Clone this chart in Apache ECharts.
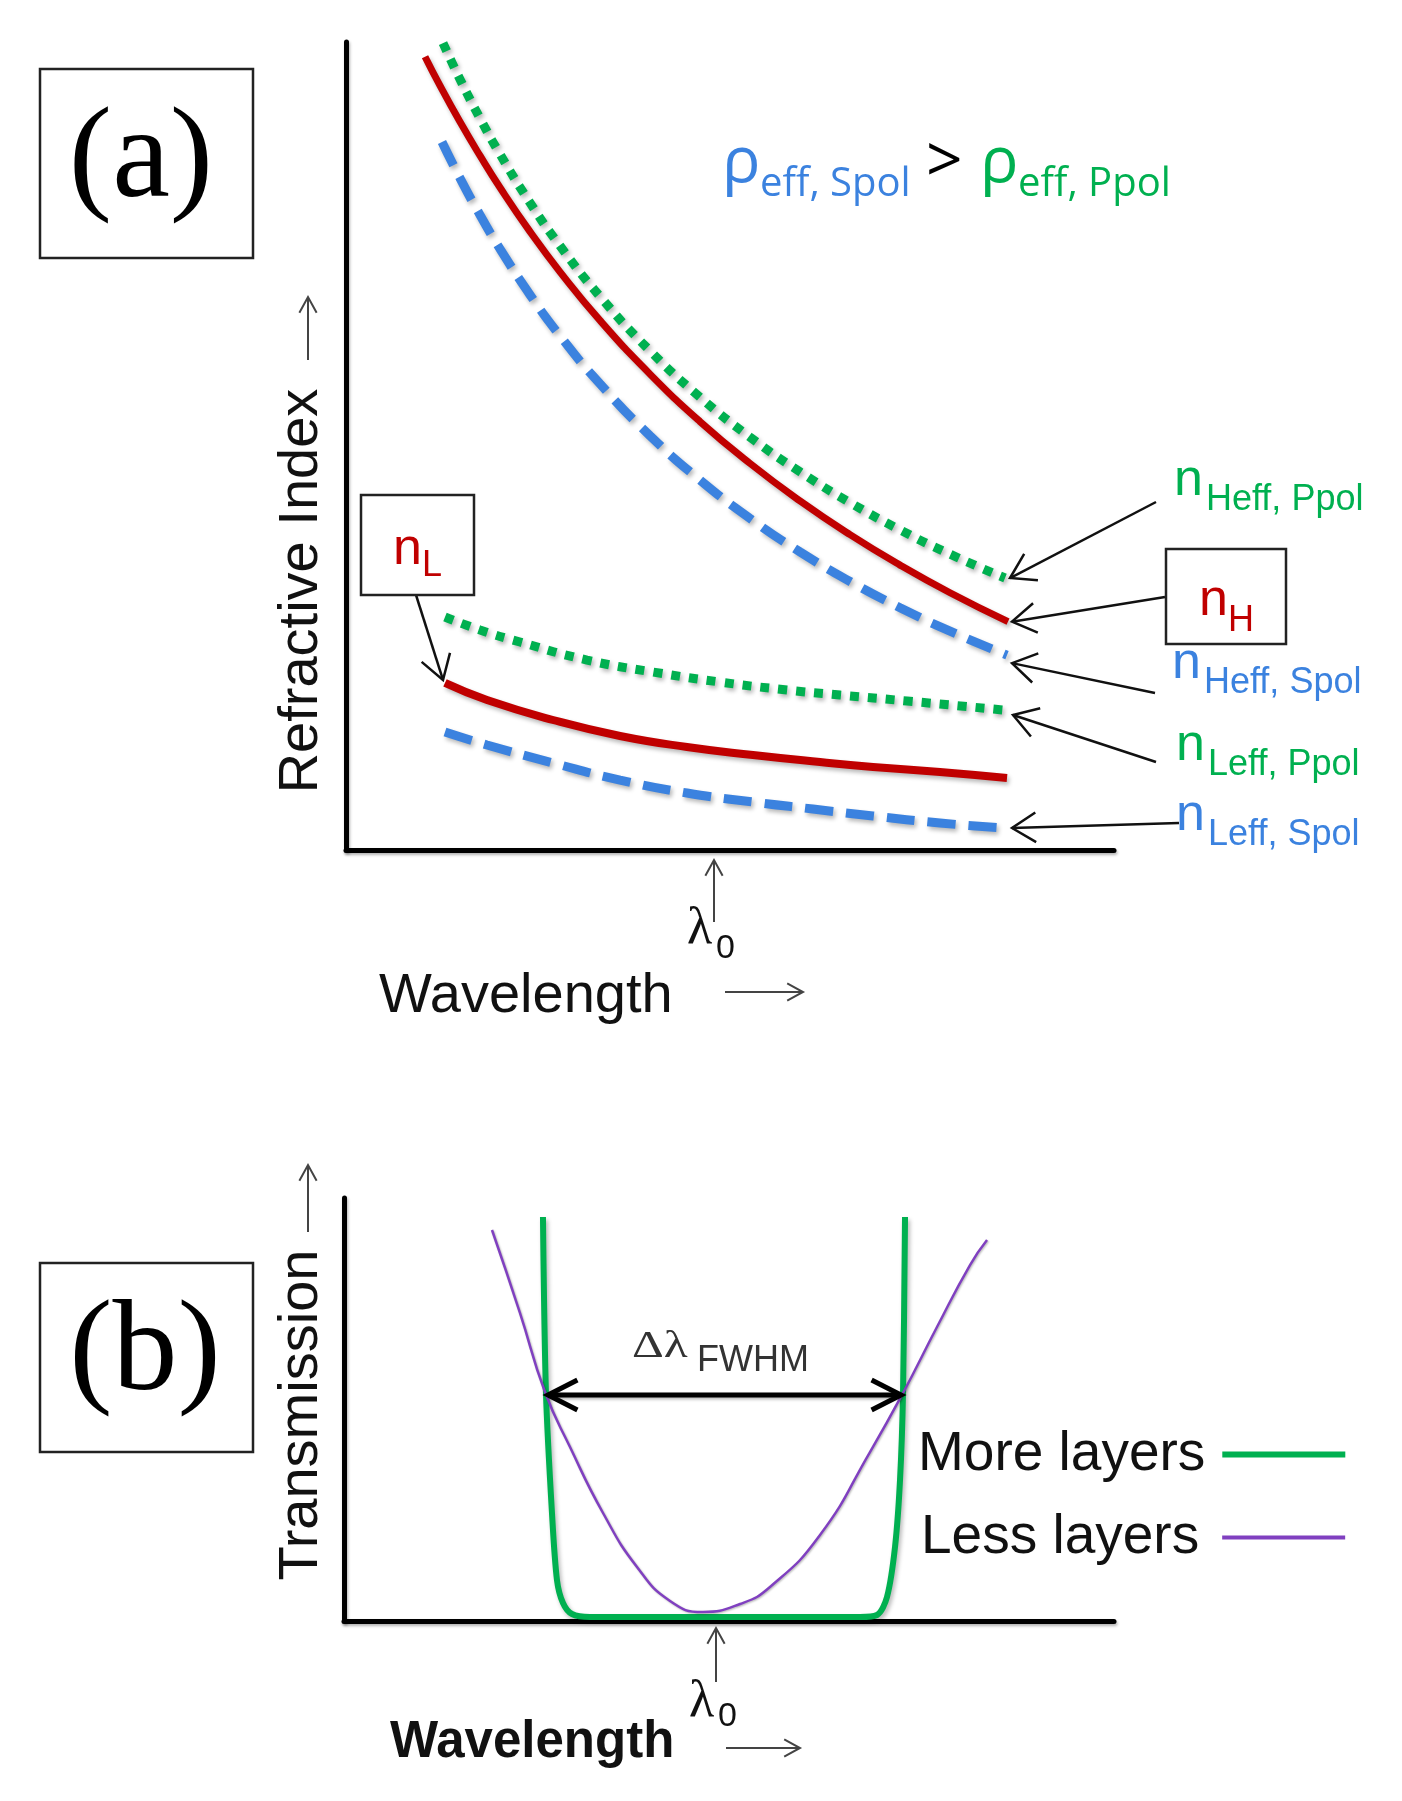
<!DOCTYPE html>
<html><head><meta charset="utf-8">
<script src="https://cdn.jsdelivr.net/npm/echarts@6/dist/echarts.min.js"></script>
<style>html,body{margin:0;padding:0;background:#fff}#c{width:1402px;height:1801px}</style>
</head><body><div id="c"></div>
<script>
// ---------- Panel (a): wavelength (arb. 0-100) vs refractive index (arb. 0-100) ----------
const hPpolX = [12.63,14.84,17.45,20.05,23.96,27.86,33.07,39.58,46.09,52.60,59.11,65.63,72.14,78.65,85.81];
const hPpolY = [99.86,95.40,90.56,86.13,80.11,74.78,68.51,61.79,56.05,51.10,46.80,43.00,39.62,36.61,33.66];
const nHX    = [10.29,12.24,14.84,17.45,20.05,23.96,27.86,33.07,39.58,46.09,52.60,59.11,65.63,72.14,78.65,86.20];
const nHY    = [98.18,94.60,90.12,85.93,81.99,76.53,71.56,65.54,58.90,53.03,47.85,43.21,39.03,35.26,31.84,28.26];
const hSpolX = [12.50,14.84,17.45,20.05,23.96,27.86,33.07,39.58,46.09,52.60,59.11,65.63,72.14,78.65,86.07];
const hSpolY = [87.62,83.16,78.59,74.41,68.71,63.65,57.69,51.27,45.79,41.04,36.89,33.23,29.99,27.08,24.12];
const lPpolX = [12.89,17.45,22.66,31.38,39.97,48.70,57.42,64.32,73.05,85.55];
const lPpolY = [28.84,27.23,25.74,23.51,22.03,20.79,19.80,19.18,18.44,17.33];
const nLX    = [12.89,18.36,26.95,35.68,44.40,52.99,61.72,68.62,77.34,86.07];
const nLY    = [20.67,18.56,16.09,14.11,12.75,11.76,10.89,10.27,9.65,8.91];
const lSpolX = [12.89,18.36,26.95,35.68,44.40,52.99,60.81,68.62,77.34,85.81];
const lSpolY = [14.60,13.00,10.77,8.66,7.05,5.94,5.07,4.21,3.34,2.72];

// ---------- Panel (b): wavelength (arb. 0-100) vs transmission (arb. 0-100) ----------
const moreX = [25.84,26.23,27.01,27.66,28.44,29.61,31.95,48.83,67.01,69.22,70.52,71.56,72.21,72.60,72.86];
const moreY = [95.51,53.90,25.53,9.69,4.26,1.65,0.95,0.95,0.95,1.42,5.67,17.49,33.33,53.90,95.51];
const lessX = [19.22,22.86,26.10,29.35,33.64,38.05,42.34,46.62,51.43,55.32,61.82,68.31,72.60,77.01,81.30,83.51];
const lessY = [92.43,72.81,54.14,41.13,25.53,12.77,4.73,2.13,4.02,8.04,20.33,39.95,53.90,69.50,84.16,90.07];
const fwhmX = [26.49,72.34];
const fwhmY = [53.43,53.43];

const seriesNames = ['nHeff, Ppol','nH','nHeff, Spol','nLeff, Ppol','nL','nLeff, Spol','More layers','Less layers','FWHM'];

const C = {green:'#00B050', red:'#C00000', blue:'#3B82DF', purple:'#8040C0', ink:'#111'};
const SANS = 'Liberation Sans, Arial, sans-serif';
const SERIF = 'Liberation Serif, Times New Roman, serif';
const CAL = 'Open Sans, Noto Sans, sans-serif';

const chart = echarts.init(document.getElementById('c'), null, {renderer:'canvas'});

function zip(xs, ys){ return xs.map((x,i)=>[x, ys[i]]); }
function ls(name, xs, ys, gi, style, smooth){
  return {
    name, type:'line', xAxisIndex:gi, yAxisIndex:gi, data: zip(xs, ys),
    symbol:'none', showSymbol:false, smooth: smooth, clip:false, silent:true,
    itemStyle:{color: style.color},
    lineStyle: Object.assign({shadowColor:'rgba(0,0,0,0.28)', shadowBlur:4, shadowOffsetX:2, shadowOffsetY:3, cap:'butt'}, style),
    z:3
  };
}
const axisLine = {show:true, onZero:false, lineStyle:{color:'#000', width:5, shadowColor:'rgba(0,0,0,0.3)', shadowBlur:3, shadowOffsetX:1, shadowOffsetY:2}};
function ax(i){ return {gridIndex:i, type:'value', min:0, max:100, axisLine, axisTick:{show:false}, axisLabel:{show:false}, splitLine:{show:false}}; }

const option = {
  animation:false,
  backgroundColor:'#fff',
  grid:[
    {left:346, top:42, width:768, height:808},
    {left:344, top:1198, width:770, height:423}
  ],
  xAxis:[ax(0), ax(1)],
  yAxis:[ax(0), ax(1)],
  legend:[
    {data:['More layers'], left:918, top:1427, icon:'rect', align:'right', itemWidth:123, itemHeight:6, padding:0, selectedMode:false,
     textStyle:{fontSize:55, fontFamily:SANS, color:C.ink, padding:[0,12,10,0]}},
    {data:['Less layers'], left:921, top:1510, icon:'rect', align:'right', itemWidth:123, itemHeight:4, padding:0, selectedMode:false,
     textStyle:{fontSize:55, fontFamily:SANS, color:C.ink, padding:[0,18,10,0]}}
  ],
  series:[
    ls(seriesNames[0], hPpolX, hPpolY, 0, {color:C.green, width:9, type:[9,9]}, 0.5),
    ls(seriesNames[1], nHX, nHY, 0, {color:C.red, width:7, type:'solid'}, 0.5),
    ls(seriesNames[2], hSpolX, hSpolY, 0, {color:C.blue, width:9, type:[26,13]}, 0.5),
    ls(seriesNames[3], lPpolX, lPpolY, 0, {color:C.green, width:9, type:[9,9]}, 0.5),
    ls(seriesNames[4], nLX, nLY, 0, {color:C.red, width:8, type:'solid'}, 0.5),
    ls(seriesNames[5], lSpolX, lSpolY, 0, {color:C.blue, width:9, type:[28,13]}, 0.5),
    ls(seriesNames[6], moreX, moreY, 1, {color:C.green, width:6, type:'solid'}, 0.3),
    ls(seriesNames[7], lessX, lessY, 1, {color:C.purple, width:2.5, type:'solid', shadowBlur:2, shadowOffsetX:1, shadowOffsetY:1}, 0.5),
    ls(seriesNames[8], fwhmX, fwhmY, 1, {color:'#000', width:5, type:'solid', shadowBlur:3, shadowOffsetX:1, shadowOffsetY:2}, false)
  ]
};
chart.setOption(option);

// ---------- annotations ----------
const G = [];
function arrow(x1,y1,x2,y2,color,w,len,ang){
  const dx=x2-x1, dy=y2-y1, d=Math.hypot(dx,dy), bx=-dx/d, by=-dy/d, c=Math.cos(ang), s=Math.sin(ang);
  const a1=[x2+len*(bx*c-by*s), y2+len*(bx*s+by*c)];
  const a2=[x2+len*(bx*c+by*s), y2+len*(-bx*s+by*c)];
  G.push({type:'line', silent:true, z:10, shape:{x1,y1,x2,y2}, style:{stroke:color, lineWidth:w}});
  G.push({type:'polyline', silent:true, z:10, shape:{points:[a1,[x2,y2],a2]}, style:{stroke:color, lineWidth:w, fill:'none', lineJoin:'miter'}});
}
function headOnly(fromX,fromY,x2,y2,color,w,len,ang){
  const dx=x2-fromX, dy=y2-fromY, d=Math.hypot(dx,dy), bx=-dx/d, by=-dy/d, c=Math.cos(ang), s=Math.sin(ang);
  const a1=[x2+len*(bx*c-by*s), y2+len*(bx*s+by*c)];
  const a2=[x2+len*(bx*c+by*s), y2+len*(-bx*s+by*c)];
  G.push({type:'polyline', silent:true, z:10, shape:{points:[a1,[x2,y2],a2]}, style:{stroke:color, lineWidth:w, fill:'none', lineJoin:'miter'}});
}
function txt(t, x, base, size, color, fam, extra, el){
  const e = Object.assign({type:'text', silent:true, z:12, x:x, y: base - 0.33*size,
    style:Object.assign({text:t, fontSize:size, fontFamily:fam, fill:color, align:'left', verticalAlign:'middle'}, extra||{})}, el||{});
  G.push(e);
}
function box(x,y,w,h){ G.push({type:'rect', silent:true, z:11, shape:{x,y,width:w,height:h}, style:{stroke:'#222', lineWidth:2.5, fill:'#fff'}}); }
function vtxt(t, cx, cy, size){
  G.push({type:'text', silent:true, z:12, x:cx, y:cy, rotation:Math.PI/2,
    style:{text:t, fontSize:size, fontFamily:SANS, fill:C.ink, align:'center', verticalAlign:'middle'}});
}
const P = (gi, pt) => chart.convertToPixel({gridIndex:gi}, pt);
const last = (xs, ys) => [xs[xs.length-1], ys[ys.length-1]];

// panel label boxes
box(40,69,213,189);   txt('(a)', 141, 162 + 0.33*130, 130, '#000', SERIF, {align:'center'});
box(40,1263,213,189); txt('(b)', 145, 1355 + 0.33*130, 130, '#000', SERIF, {align:'center'});

// axis titles (a)
vtxt('Refractive Index', 302, 591, 56);
arrow(308,360,308,297,'#444',2,18,0.5);
txt('Wavelength', 379, 1015, 56, C.ink, SANS);
arrow(725,992,803,992,'#444',2,18,0.5);
txt('\u03bb', 687, 947, 52, C.ink, SERIF);
txt('0', 716, 960, 34, C.ink, SANS);
arrow(714,922,714,860,'#444',2,18,0.5);

// rho relation
txt('\u03c1', 722, 185, 64, C.blue, CAL);
txt('eff, Spol', 760, 198, 40, C.blue, CAL);
txt('>', 926, 185, 64, '#000', CAL);
txt('\u03c1', 980, 185, 64, C.green, CAL);
txt('eff, Ppol', 1018, 198, 40, C.green, CAL);

// right-hand labels
function nlab(sub, x, base, color){
  txt('n', x, base, 52, color, SANS);
  txt(sub, x + 32, base + 14, 36, color, SANS);
}
nlab('Heff, Ppol', 1174, 498, C.green);
nlab('Heff, Spol', 1172, 681, C.blue);
nlab('Leff, Ppol', 1176, 763, C.green);
nlab('Leff, Spol', 1176, 833, C.blue);
box(1166,549,120,95);
txt('n', 1199, 618, 52, C.red, SANS); txt('H', 1228, 633, 36, C.red, SANS);
box(361,495,113,100);
txt('n', 393, 567, 52, C.red, SANS); txt('L', 422, 578, 36, C.red, SANS);

// pointer arrows to curve ends (a)
let e;
e = P(0, last(hPpolX,hPpolY)); arrow(1156,502, e[0]+5, e[1], '#111', 2.5, 28, 0.56);
e = P(0, last(nHX,nHY));       arrow(1165,597, e[0]+4, e[1], '#111', 2.5, 28, 0.56);
e = P(0, last(hSpolX,hSpolY)); arrow(1155,693, e[0]+5, e[1]+8, '#111', 2.5, 28, 0.56);
e = P(0, last(lPpolX,lPpolY)); arrow(1156,762, e[0]+10, e[1]+5, '#111', 2.5, 28, 0.56);
e = P(0, last(lSpolX,lSpolY)); arrow(1179,823, e[0]+7, e[1], '#111', 2.5, 28, 0.56);
e = P(0, [nLX[0], nLY[0]]);    arrow(416,595, e[0]-2, e[1]-3, '#111', 2.5, 28, 0.56);

// panel (b) texts
vtxt('Transmission', 302, 1415, 56);
arrow(308,1232,308,1165,'#444',2,18,0.5);
G.push({type:'text', silent:true, z:12, x:632, y:1360 - 0.33*38, scaleX:1.3,
  style:{text:'\u0394\u03bb', fontSize:38, fontFamily:SERIF, fill:'#333', align:'left', verticalAlign:'middle'}});
txt('FWHM', 697, 1373, 36, '#333', SANS);
txt('\u03bb', 689, 1720, 52, C.ink, SERIF);
txt('0', 718, 1728, 34, C.ink, SANS);
arrow(716,1682,716,1628,'#444',2,18,0.5);
txt('Wavelength', 390, 1760, 51, C.ink, SANS, {fontWeight:'bold'});
arrow(726,1748,800,1748,'#444',2,18,0.5);

// FWHM arrow heads
const f0 = P(1, [fwhmX[0], fwhmY[0]]), f1 = P(1, [fwhmX[1], fwhmY[1]]);
headOnly(f1[0], f1[1], f0[0], f0[1], '#000', 5, 33, 0.47);
headOnly(f0[0], f0[1], f1[0], f1[1], '#000', 5, 33, 0.47);

chart.setOption({graphic: G});
</script></body></html>
